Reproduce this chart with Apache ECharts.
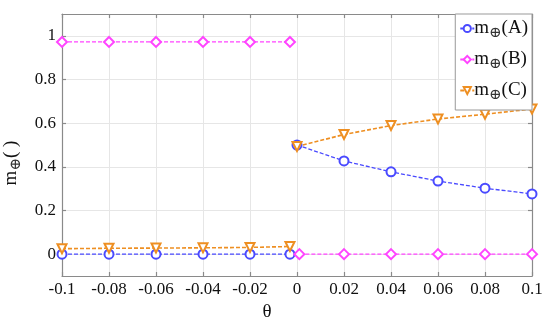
<!DOCTYPE html>
<html><head><meta charset="utf-8">
<script src="https://cdn.jsdelivr.net/npm/echarts@6/dist/echarts.min.js"></script>
<style>html,body{margin:0;padding:0;background:#fff}#c{width:550px;height:320px}</style>
</head><body><div id="c"></div>
<script>
// data
var xTickLabels = ['-0.1','-0.08','-0.06','-0.04','-0.02','0','0.02','0.04','0.06','0.08','0.1'];
var yTickValues = [0, 0.2, 0.4, 0.6, 0.8, 1];
var seriesNames = ['A', 'B', 'C'];
// left branch (theta < 0) and right branch (theta >= 0)
var xLeft = [-0.1, -0.08, -0.06, -0.04, -0.02, -0.003];
var xRight = [0, 0.02, 0.04, 0.06, 0.08, 0.1];
var aLeft = [0, 0, 0, 0, 0, 0];
var aRight = [0.5, 0.427, 0.377, 0.335, 0.302, 0.276];
var bLeft = [0.972, 0.972, 0.972, 0.972, 0.972, 0.972];
var bRight = [0, 0, 0, 0, 0, 0];
var bRightX = [0.001, 0.02, 0.04, 0.06, 0.08, 0.1];
var cLeft = [0.025, 0.027, 0.028, 0.029, 0.031, 0.035];
var cRight = [0.493, 0.548, 0.589, 0.619, 0.641, 0.665];

function pairs(xs, ys){ return xs.map(function(x,i){ return [x, ys[i]]; }); }
function joined(xl, yl, xr, yr){ return pairs(xl, yl).concat([[null,null]]).concat(pairs(xr, yr)); }

var colors = ['#4a4aff', '#ff44ff', '#ee8f22'];
var symbols = ['emptyCircle', 'emptyDiamond', 'emptyTriangle'];
var rotates = [0, 0, 180];
var dataSets = [
  joined(xLeft, aLeft, xRight, aRight),
  joined(xLeft, bLeft, bRightX, bRight),
  joined(xLeft, cLeft, xRight, cRight)
];

var FONT = '"Liberation Serif", "DejaVu Serif", serif';
var rich = {
  m: {fontFamily: FONT, fontSize: 19, color: '#111'},
  s: {fontFamily: FONT, fontSize: 15, color: '#333', padding: [10, 0, 0, 0]}
};

var series = seriesNames.map(function(n, i){
  return {
    name: 'm⊕(' + n + ')',
    type: 'line',
    xAxisIndex: 0, yAxisIndex: 0,
    data: dataSets[i],
    connectNulls: false,
    symbol: symbols[i],
    symbolRotate: rotates[i],
    symbolSize: i === 1 ? 10 : 9,
    showSymbol: true,
    color: colors[i],
    lineStyle: {color: colors[i], width: i === 2 ? 1.6 : 1.3, type: [4, 2]},
    itemStyle: {color: colors[i], borderColor: colors[i], borderWidth: 1.2},
    z: i === 1 ? 3 : 2,
    animation: false
  };
});

var axisLineStyle = {color: '#8a8a8a', width: 1.2};
var chart = echarts.init(document.getElementById('c'));
chart.setOption({
  backgroundColor: '#fff',
  animation: false,
  grid: {left: 62, right: 18, top: 14, bottom: 44, containLabel: false, outerBoundsMode: 'none'},
  legend: {
    right: 18, top: 14, orient: 'vertical',
    backgroundColor: '#fff', borderColor: '#999', borderWidth: 1,
    padding: [5, 4, 7, 4], itemGap: 9, itemWidth: 14, itemHeight: 9,
    formatter: function(name){
      var inner = name.replace('m⊕', '');
      return '{m|m}{s|⊕}{m|' + inner + '}';
    },
    textStyle: {rich: rich, padding: [0, 0, 0, -5]}
  },
  xAxis: [{
    type: 'value', min: -0.1, max: 0.1, interval: 0.02,
    name: 'θ', nameLocation: 'middle', nameGap: 27,
    nameTextStyle: {fontFamily: FONT, fontSize: 19, color: '#111', padding: [0, 60, 0, 0]},
    axisLine: {show: true, onZero: false, lineStyle: axisLineStyle},
    axisTick: {show: true, inside: true, length: 4, lineStyle: axisLineStyle},
    axisLabel: {fontFamily: FONT, fontSize: 17, color: '#111', margin: 5,
      formatter: function(v){ var s = (+v.toFixed(2)).toString(); return s; }},
    splitLine: {show: true, lineStyle: {color: '#e6e6e6', width: 1}}
  }, {
    type: 'value', min: -0.1, max: 0.1, interval: 0.02, position: 'top',
    axisLine: {show: true, onZero: false, lineStyle: axisLineStyle},
    axisTick: {show: true, inside: true, length: 4, lineStyle: axisLineStyle},
    axisLabel: {show: false}, splitLine: {show: false}
  }],
  yAxis: [{
    type: 'value', min: -0.1, max: 1.1,
    name: '{m|m}{s|⊕}{m|( )}', nameLocation: 'middle', nameGap: 36, nameRotate: 90,
    nameTextStyle: {rich: rich, padding: [0, 0, 0, -36]},
    axisLine: {show: true, onZero: false, lineStyle: axisLineStyle},
    axisTick: {show: true, inside: true, length: 4, lineStyle: axisLineStyle, customValues: yTickValues},
    axisLabel: {fontFamily: FONT, fontSize: 17, color: '#111', margin: 6, customValues: yTickValues},
    splitLine: {show: true, lineStyle: {color: '#e6e6e6', width: 1}}
  }, {
    type: 'value', min: -0.1, max: 1.1, position: 'right',
    axisLine: {show: true, onZero: false, lineStyle: axisLineStyle},
    axisTick: {show: true, inside: true, length: 4, lineStyle: axisLineStyle, customValues: yTickValues},
    axisLabel: {show: false, customValues: yTickValues}, splitLine: {show: false}
  }],
  series: series
});
</script></body></html>
